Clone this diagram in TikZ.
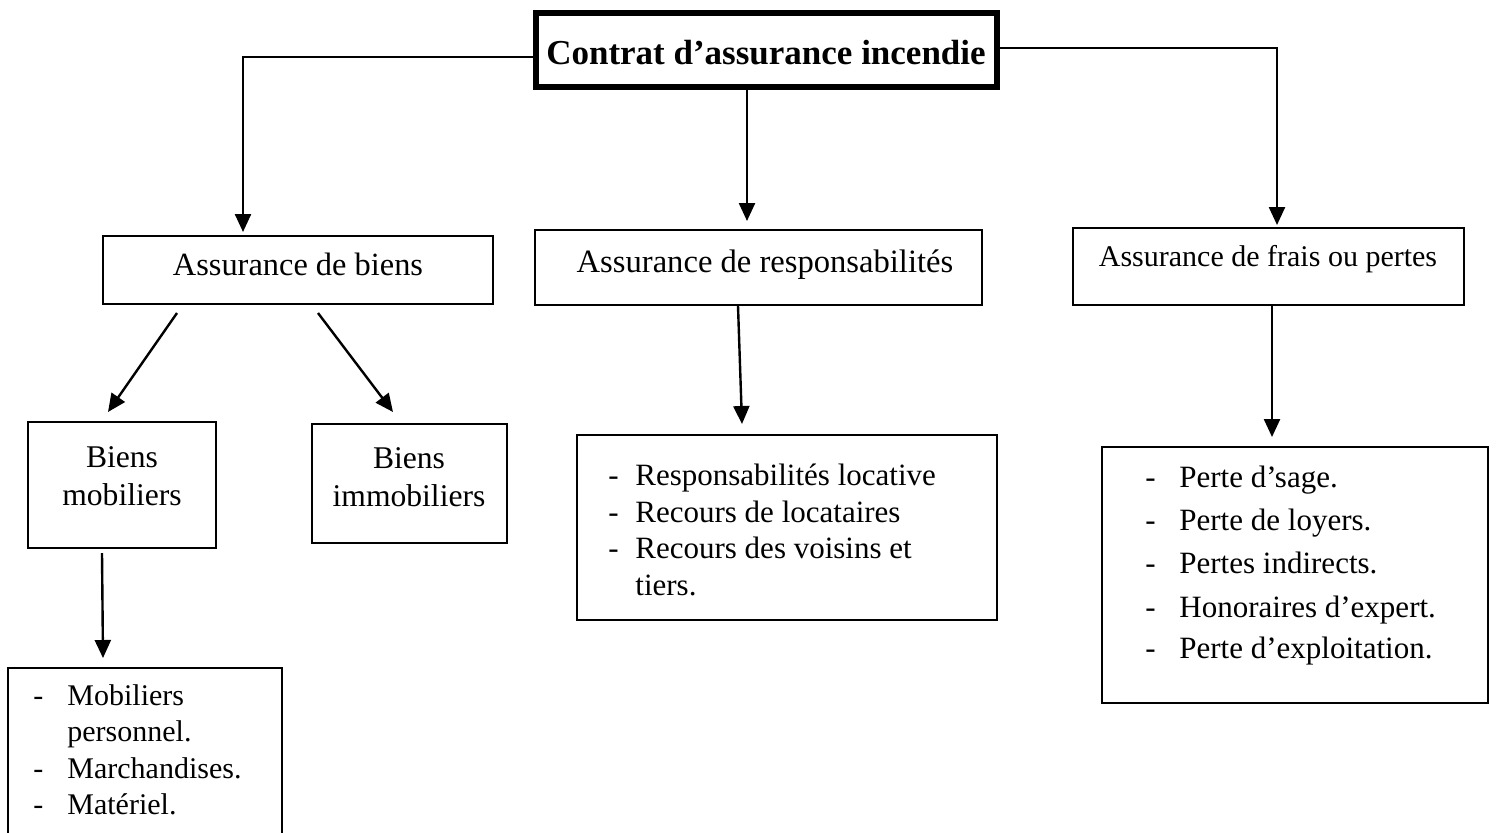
\documentclass[tikz,border=0pt]{standalone}
\usepackage{fontspec}
\setmainfont{Liberation Serif}
\usetikzlibrary{arrows.meta,fit,calc}
\begin{document}
\begin{tikzpicture}[x=0.5pt,y=-0.5pt,
  box/.style={draw, line width=1pt, inner sep=0pt},
  arr/.style={line width=1.2pt, -{Triangle[width=8pt,length=9pt]}},
  txt/.style={inner sep=0pt, anchor=base},
  ltxt/.style={inner sep=0pt, anchor=base west, font=\fontsize{15.5}{19}\selectfont},
]
\useasboundingbox (0,0) rectangle (1497,832);

% boxes
\node[box, line width=3.3pt, fit={(536,13) (997,87)}] (title) {};
\node[box, fit={(103,236) (493,304)}] (biens) {};
\node[box, fit={(535,230) (982,305)}] (resp) {};
\node[box, fit={(1073,228) (1464,305)}] (frais) {};
\node[box, fit={(28,422) (216,548)}] (mob) {};
\node[box, fit={(312,424) (507,543)}] (immob) {};
\node[box, fit={(577,435) (997,620)}] (rlist) {};
\node[box, fit={(1102,447) (1488,703)}] (flist) {};
\node[box, fit={(8,668) (282,850)}] (mlist) {};

% texts
\node[txt, font=\bfseries\fontsize{17.5}{21}\selectfont] (titleT) at (766,64) {Contrat d’assurance incendie};
\node[txt, font=\fontsize{16.2}{19}\selectfont] (biensT) at (298,275) {Assurance de biens};
\node[txt, font=\fontsize{16.3}{19}\selectfont] (respT) at (765,272) {Assurance de responsabilités};
\node[txt, font=\fontsize{15}{18}\selectfont] (fraisT) at (1268,266) {Assurance de frais ou pertes};
\node[txt, font=\fontsize{15.8}{19}\selectfont] (mobT1) at (122,467) {Biens};
\node[txt, font=\fontsize{15.8}{19}\selectfont] (mobT2) at (122,505) {mobiliers};
\node[txt, font=\fontsize{15.8}{19}\selectfont] (immobT1) at (409,468) {Biens};
\node[txt, font=\fontsize{15.8}{19}\selectfont] (immobT2) at (409,506) {immobiliers};

% responsibilities list
\foreach \yy/\tt [count=\i] in {485/Responsabilités locative, 522/Recours de locataires, 558/Recours des voisins et, 595/tiers.}{
  \node[ltxt] (rl\i) at (635,\yy) {\tt};
}
\foreach \yy [count=\i] in {485,522,558}{
  \node[ltxt] (rd\i) at (608,\yy) {-};
}

% frais list
\foreach \yy/\tt [count=\i] in {487/Perte d’sage., 530/Perte de loyers., 573/Pertes indirects., 617/Honoraires d’expert., 658/Perte d’exploitation.}{
  \node[ltxt] (fl\i) at (1179,\yy) {\tt};
  \node[ltxt] (fd\i) at (1145,\yy) {-};
}

% mobilier list
\foreach \yy/\tt [count=\i] in {705/Mobiliers, 741/personnel., 778/Marchandises., 814/Matériel.}{
  \node[ltxt, font=\fontsize{15}{18}\selectfont] (ml\i) at (67,\yy) {\tt};
}
\foreach \yy [count=\i] in {705,778,814}{
  \node[ltxt, font=\fontsize{15}{18}\selectfont] (md\i) at (33,\yy) {-};
}

% arrow end points
\coordinate (aL) at (243,232);
\coordinate (aM) at (747,221);
\coordinate (aR) at (1277,225);
\coordinate (bL0) at (177,313);
\coordinate (bL) at (108,412);
\coordinate (bR0) at (318,313);
\coordinate (bR) at (393,412);
\coordinate (r0) at (738,305);
\coordinate (r1) at (742,424);
\coordinate (f1) at (1272,437);
\coordinate (m0) at (102,553);
\coordinate (m1) at (103,658);

% connectors
\draw[arr] ($(title.west)+(0,7)$) -| (aL);
\draw[arr] (aM |- title.south) -- (aM);
\draw[arr] ($(title.east)+(0,-2)$) -| (aR);
\draw[arr] (bL0) -- (bL);
\draw[arr] (bR0) -- (bR);
\draw[arr] (r0 |- resp.south) -- (r1);
\draw[arr] (f1 |- frais.south) -- (f1);
\draw[arr] (m0) -- (m1);
\end{tikzpicture}
\end{document}
